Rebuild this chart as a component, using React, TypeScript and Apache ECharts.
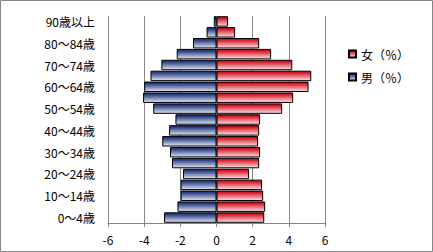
import React, { useEffect, useRef } from "react";
import * as echarts from "echarts";

const categories = [
  "0～4歳", "5～9歳", "10～14歳", "15～19歳", "20～24歳", "25～29歳", "30～34歳",
  "35～39歳", "40～44歳", "45～49歳", "50～54歳", "55～59歳", "60～64歳", "65～69歳",
  "70～74歳", "75～79歳", "80～84歳", "85～89歳", "90歳以上",
];
const femaleValues = [2.64, 2.69, 2.58, 2.52, 1.8, 2.36, 2.41, 2.3, 2.36, 2.41, 3.63, 4.24, 5.09, 5.24, 4.19, 3.02, 2.36, 1.03, 0.64];
const maleValues = [-2.9, -2.16, -1.98, -1.98, -1.85, -2.46, -2.57, -3.0, -2.62, -2.27, -3.5, -4.06, -4.0, -3.65, -3.05, -2.2, -1.3, -0.55, -0.15];
const femaleName = "女（％）";
const maleName = "男（％）";
const xMin = -6;
const xMax = 6;
const xInterval = 2;

const FONT = "'Noto Sans CJK JP', 'Noto Sans', sans-serif";

export default function App() {
  const ref = useRef<HTMLDivElement>(null);
  useEffect(() => {
    if (!ref.current) return;
    const chart = echarts.init(ref.current, null, { renderer: "svg" });
    const redGrad = new echarts.graphic.LinearGradient(0, 0, 0, 1, [
      { offset: 0, color: "#c00018" },
      { offset: 0.2, color: "#d8202e" },
      { offset: 1, color: "#fbe3e6" },
    ]);
    const blueGrad = new echarts.graphic.LinearGradient(0, 0, 0, 1, [
      { offset: 0, color: "#1a2a66" },
      { offset: 0.2, color: "#2f4386" },
      { offset: 1, color: "#e2e6f3" },
    ]);
    chart.setOption({
      animation: false,
      backgroundColor: "#ffffff",
      textStyle: { fontFamily: FONT },
      graphic: [
        {
          type: "rect",
          shape: { x: 0.5, y: 0.5, width: 432, height: 251 },
          style: { fill: "none", stroke: "#868686", lineWidth: 1 },
          z: 100,
        },
      ],
      grid: { left: 108, right: 108, top: 16, bottom: 29, containLabel: false },
      legend: {
        orient: "vertical",
        left: 343,
        top: 43,
        itemWidth: 7,
        itemHeight: 7,
        itemGap: 11,
        icon: "rect",
        data: [femaleName, maleName],
        textStyle: { fontSize: 12, color: "#000", fontFamily: FONT },
      },
      xAxis: {
        type: "value",
        min: xMin,
        max: xMax,
        interval: xInterval,
        axisLine: { show: true, lineStyle: { color: "#868686" } },
        axisTick: { show: true, length: 4, lineStyle: { color: "#868686" } },
        axisLabel: { color: "#000", fontSize: 12, margin: 10, fontFamily: FONT },
        splitLine: { show: true, lineStyle: { color: "#868686", width: 1 } },
      },
      yAxis: {
        type: "category",
        data: categories,
        axisLine: { show: false, onZero: false },
        axisTick: { show: false },
        axisLabel: { interval: 1, color: "#000", fontSize: 12, margin: 13, fontFamily: FONT },
      },
      series: [
        {
          name: femaleName,
          type: "bar",
          data: femaleValues,
          barGap: "-100%",
          barCategoryGap: "4%",
          itemStyle: { color: redGrad, borderColor: "#000", borderWidth: 1 },
        },
        {
          name: maleName,
          type: "bar",
          data: maleValues,
          barGap: "-100%",
          barCategoryGap: "4%",
          itemStyle: { color: blueGrad, borderColor: "#000", borderWidth: 1 },
        },
      ],
    });
    return () => chart.dispose();
  }, []);
  return (
    <div
      ref={ref}
      style={{ position: "absolute", left: 0, top: 0, width: 433, height: 252 }}
    />
  );
}
